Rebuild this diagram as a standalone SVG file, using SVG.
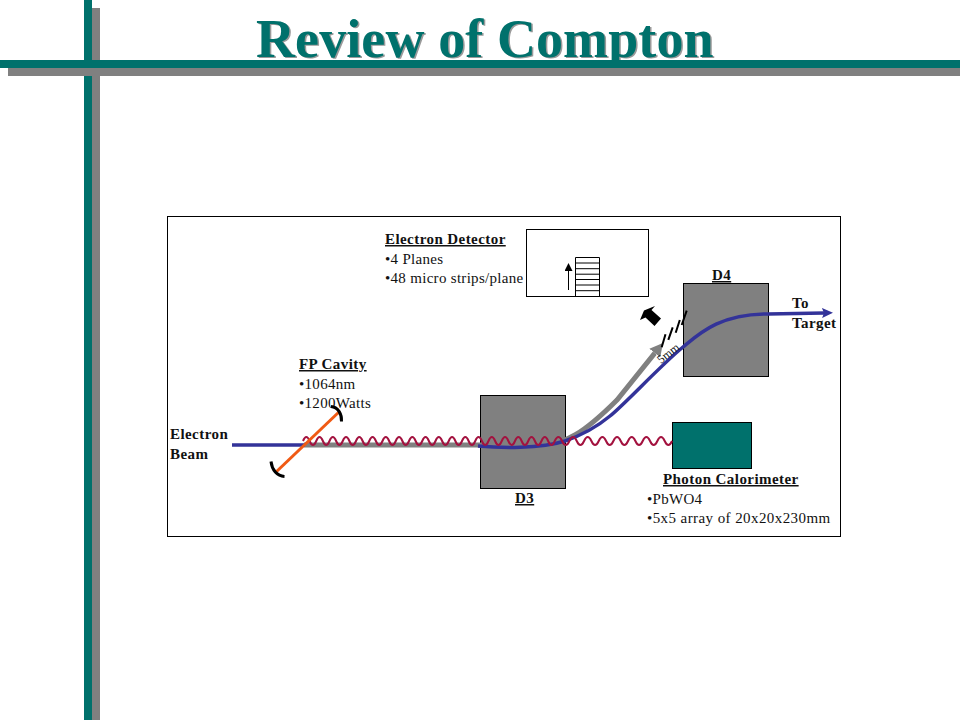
<svg xmlns="http://www.w3.org/2000/svg" width="960" height="720" viewBox="0 0 960 720">
<defs>
<style>
text{font-family:"Liberation Serif","Times New Roman",serif;font-size:15px;fill:#111;letter-spacing:.3px}
.h{font-weight:bold;text-decoration:underline;letter-spacing:.43px}
.b{font-weight:bold;letter-spacing:.43px}
.box{fill:#808080;stroke:#000;stroke-width:1}
.title{font-size:54px;font-weight:bold;letter-spacing:.1px}
.ln{fill:none;stroke-linecap:butt}
</style>
<marker id="blueHead" markerUnits="userSpaceOnUse" markerWidth="12" markerHeight="10" refX="2" refY="5" orient="auto"><path d="M0 0L11 5L0 10L2 5Z" fill="#333399"/></marker>
<marker id="grayHead" markerUnits="userSpaceOnUse" markerWidth="14" markerHeight="14" refX="0" refY="7" orient="auto"><path d="M0 0L13 7L0 14Z" fill="#808080"/></marker>
<marker id="blackHead" markerUnits="userSpaceOnUse" markerWidth="9" markerHeight="8" refX="0" refY="4" orient="auto"><path d="M0 0L8 4L0 8Z" fill="#000"/></marker>
</defs>
<rect width="960" height="720" fill="#fff"/>
<g id="title">
<text x="257.500" y="58" class="title" style="fill:#9a9a9a">Review of Compton</text>
<text x="256" y="56.500" class="title" style="fill:#00716C">Review of Compton</text>
</g>
<g id="frame-decor">
<rect x="84" y="0" width="8" height="720" fill="#00716C"/>
<rect x="92" y="8" width="8" height="712" fill="#808080"/>
<rect x="8" y="68" width="952" height="8" fill="#808080"/>
<rect x="0" y="60" width="960" height="8" fill="#00716C"/>
</g>
<rect id="outer-frame" x="167.500" y="216.500" width="673" height="320" fill="#fff" stroke="#000" stroke-width="1"/>
<g id="node-d3"><rect class="box" x="480.500" y="395.500" width="85" height="93"/><text class="h" x="515" y="503">D3</text></g>
<g id="node-d4"><rect class="box" x="683.500" y="283.500" width="85" height="93"/><text class="h" x="712" y="280">D4</text></g>
<g id="node-calorimeter"><rect x="672.500" y="422.500" width="79" height="46" fill="#00716C" stroke="#000" stroke-width="1"/>
<text class="h" x="663" y="484">Photon Calorimeter</text><text x="647" y="504">•PbWO4</text><text x="647" y="523" style="letter-spacing:.42px">•5x5 array of 20x20x230mm</text></g>
<g id="node-detector"><rect x="526.500" y="229.500" width="122" height="67" fill="#fff" stroke="#000" stroke-width="1"/>
<path d="M575.500 257.500H599.500V296M575.500 257.500V296M575.500 263H599.500M575.500 268.700H599.500M575.500 274.200H599.500M575.500 279.500H599.500M575.500 285H599.500M575.500 290.700H599.500" fill="none" stroke="#000" stroke-width="1"/>
<text class="h" x="385" y="244">Electron Detector</text><text x="385" y="264">•4 Planes</text><text x="385" y="283">•48 micro strips/plane</text></g>
<g id="node-cavity"><text class="h" x="299" y="369">FP Cavity</text><text x="299" y="389">•1064nm</text><text x="299" y="408">•1200Watts</text></g>
<g id="connectors">
<path class="ln" d="M568.500 290V271" stroke="#000" stroke-width="1" marker-end="url(#blackHead)"/>
<path class="ln" d="M304 445H540C565 445 585 432 617 400L654.800 353.100" stroke="#808080" stroke-width="5" marker-end="url(#grayHead)"/>
<path class="ln" d="M232 445H305M478 446C500 448 540 449 565 441C585 434 598 426 610 416C625 404 660 366 683 347C700 333 720 314 768 314L824 313" stroke="#333399" stroke-width="3.500" marker-end="url(#blueHead)"/>
<path class="ln" d="M303 441q3.312-8 6.625 0 3.312 8 6.625 0 3.312-8 6.625 0 3.312 8 6.625 0 3.312-8 6.625 0 3.312 8 6.625 0 3.312-8 6.625 0 3.312 8 6.625 0 3.312-8 6.625 0 3.312 8 6.625 0 3.312-8 6.625 0 3.312 8 6.625 0 3.312-8 6.625 0 3.312 8 6.625 0 3.312-8 6.625 0 3.312 8 6.625 0 3.312-8 6.625 0 3.312 8 6.625 0 3.312-8 6.625 0 3.312 8 6.625 0 3.312-8 6.625 0 3.312 8 6.625 0 3.312-8 6.625 0 3.312 8 6.625 0 3.312-8 6.625 0 3.312 8 6.625 0 3.312-8 6.625 0 3.312 8 6.625 0 3.312-8 6.625 0 3.312 8 6.625 0 3.312-8 6.625 0 3.312 8 6.625 0 3.312-8 6.625 0 3.312 8 6.625 0 3.312-8 6.625 0 3.312 8 6.625 0 3.312-8 6.625 0 3.312 8 6.625 0 3.660-8 7.330 0 3.660 8 7.330 0 3.660-8 7.330 0 3.660 8 7.330 0 3.660-8 7.330 0 3.660 8 7.330 0 3.660-8 7.330 0 3.660 8 7.330 0 3.660-8 7.330 0 3.660 8 7.330 0 3.660-8 7.330 0 3.660 8 7.330 0 3.660-8 7.330 0 3.660 8 7.330 0 3.660-8 7.330 0 3.660 8 7.330 0" stroke="#A3123F" stroke-width="2"/>
<path class="ln" d="M275 473L340 411" stroke="#F05A14" stroke-width="3"/>
<path class="ln" d="M331 406.500C338 407 342 414 341.500 421.500M271 461.500C272 470 277 476 284.500 476.500" stroke="#000" stroke-width="3"/>
<path class="ln" d="M661.700 347.300L665.500 334.300M668.300 339.800L672.700 327.300M675.700 332.700L679.800 320M681.700 325L686.700 310.700" stroke="#000" stroke-width="2"/>
<path d="M655 306L644 310.500L640 320L645.500 317.500L654.500 326L661 318.500L651.500 310Z" fill="#000"/>
</g>
<g id="labels">
<text class="b" x="170" y="439">Electron</text><text class="b" x="170" y="459">Beam</text>
<text class="b" x="792" y="308">To</text><text class="b" x="792" y="328">Target</text>
<text x="0" y="0" style="font-size:12px;letter-spacing:0" transform="translate(661 364) rotate(-38)">5mm</text>
</g>
</svg>
